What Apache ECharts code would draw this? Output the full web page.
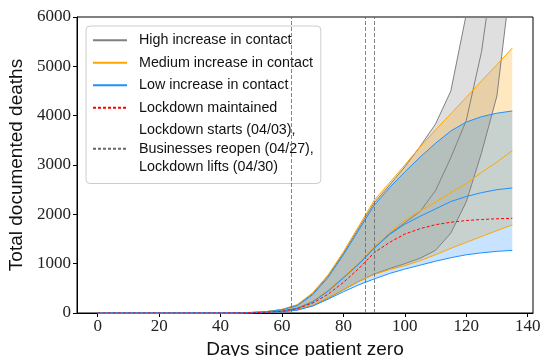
<!DOCTYPE html>
<html><head><meta charset="utf-8">
<script src="https://cdn.jsdelivr.net/npm/echarts@6/dist/echarts.min.js"></script>
<style>html,body{margin:0;padding:0;background:#fff}#c{width:543px;height:356px}</style>
</head><body><div id="c"></div>
<script>
const days = [0,5,10,15,20,25,30,35,40,45,50,55,60,65,70,75,80,85,90,95,100,105,110,115,120,125,130,135];
const highUpper = [0,0,0,0,0,0,0,1,2,5,12,30,70,160,390,750,1210,1720,2230,2590,2960,3380,3830,4500,6050,8500,12000,17000];
const highMid   = [0,0,0,0,0,0,0,1,1,3,7,17,40,100,230,450,720,1000,1320,1600,1830,2060,2480,3150,3900,5300,7500,10500];
const highLower = [0,0,0,0,0,0,0,0,1,2,5,12,25,60,150,300,470,640,790,900,1000,1110,1270,1620,2250,3250,4400,7000];
const medUpper  = [0,0,0,0,0,0,0,1,2,5,12,28,75,170,410,770,1240,1760,2280,2640,3000,3370,3710,4040,4370,4705,5035,5370];
const medMid    = [0,0,0,0,0,0,0,1,1,3,7,17,40,100,235,455,725,1010,1335,1630,1880,2070,2250,2440,2620,2850,3060,3290];
const medLower  = [0,0,0,0,0,0,0,0,1,2,5,13,30,70,160,310,480,640,780,880,960,1060,1180,1310,1430,1550,1670,1785];
const lowUpper  = [0,0,0,0,0,0,0,1,1,4,10,25,65,150,370,720,1180,1680,2180,2540,2860,3160,3440,3690,3870,3980,4050,4095];
const lowMid    = [0,0,0,0,0,0,0,1,1,3,7,16,38,95,225,440,710,990,1310,1590,1800,1960,2110,2260,2360,2440,2500,2535];
const lowLower  = [0,0,0,0,0,0,0,0,1,2,5,11,25,60,140,280,430,570,690,800,890,970,1050,1120,1180,1220,1250,1270];
const lockdown  = [0,0,0,0,0,0,0,0,1,3,6,15,35,90,200,380,620,900,1220,1430,1600,1710,1790,1840,1875,1895,1910,1920];
const eventDays = [63, 87, 90];
const xTicks = [0,20,40,60,80,100,120,140];

const names = {
  high: 'High increase in contact',
  med: 'Medium increase in contact',
  low: 'Low increase in contact',
  lock: 'Lockdown maintained',
  events: 'Lockdown starts (04/03),\nBusinesses reopen (04/27),\nLockdown lifts (04/30)'
};
const scen = [
  {key:'high', color:'#808080', fill:'rgba(128,128,128,0.25)', up:highUpper, mid:highMid, lo:highLower},
  {key:'med', color:'#ffa500', fill:'rgba(255,165,0,0.25)', up:medUpper, mid:medMid, lo:medLower},
  {key:'low', color:'#1e90ff', fill:'rgba(30,144,255,0.25)', up:lowUpper, mid:lowMid, lo:lowLower}
];
const pairs = a => days.map((d,i)=>[d,a[i]]);
const series = [];
scen.forEach(s => {
  series.push({type:'custom', name:'_band_'+s.key, silent:true, clip:true, z:1,
    data:[[0,0]],
    renderItem:(params, api) => {
      const pts = [];
      days.forEach((d,i)=>pts.push(api.coord([d, s.up[i]])));
      for (let i=days.length-1;i>=0;i--) pts.push(api.coord([days[i], s.lo[i]]));
      const cs = params.coordSys;
      return {type:'polygon', shape:{points:pts}, style:{fill:s.fill},
        clipPath:{type:'rect', shape:{x:cs.x, y:cs.y, width:cs.width, height:cs.height}}};
    }
  });
});
scen.forEach(s => {
  [s.up, s.mid, s.lo].forEach(arr => {
    series.push({type:'line', name:names[s.key], data:pairs(arr), symbol:'none',
      lineStyle:{color:s.color, width:1}, itemStyle:{color:s.color}, z:3});
  });
});
series.push({type:'line', name:names.lock, data:pairs(lockdown), symbol:'none',
  lineStyle:{color:'#ff0000', width:1, type:[3,2]}, itemStyle:{color:'#ff0000'}, z:4});
series.push({type:'line', name:names.events, data:[], symbol:'none',
  lineStyle:{color:'#666', width:0.8, type:[3,2]}, itemStyle:{color:'#666'},
  markLine:{silent:true, symbol:['none','none'], label:{show:false},
    lineStyle:{color:'#666', width:0.8, type:[4,2]},
    data: eventDays.map(d=>({xAxis:d}))}, z:2});

const chart = echarts.init(document.getElementById('c'), null, {renderer:'canvas'});
chart.setOption({
  animation:false,
  backgroundColor:'#fff',
  grid:{left:77, right:10, top:17, bottom:43, show:true, borderColor:'#000', borderWidth:1,
    containLabel:false, outerBoundsMode:'none'},
  legend:{
    orient:'vertical', left:86, top:26, itemWidth:34, itemHeight:14, itemGap:0,
    padding:[3,7,5,6], backgroundColor:'rgba(255,255,255,0.8)', borderColor:'#cccccc',
    borderWidth:1, borderRadius:4, selectedMode:false,
    itemStyle:{opacity:0, borderWidth:0},
    textStyle:{fontFamily:'Liberation Sans', fontSize:14.3, color:'#111', lineHeight:22.5, padding:[0,0,0,7]},
    data:[
      {name:names.high}, {name:names.med}, {name:names.low}, {name:names.lock},
      {name:names.events, textStyle:{lineHeight:18.5, padding:[4,0,0,7]}}
    ]
  },
  xAxis:{type:'value', min:-6.75, max:141.75,
    name:'Days since patient zero', nameLocation:'middle', nameGap:23,
    nameTextStyle:{fontFamily:'Liberation Sans', fontSize:19, color:'#111'},
    axisLine:{show:true, onZero:false, lineStyle:{color:'#000'}},
    axisTick:{show:true, length:4, customValues:xTicks, lineStyle:{color:'#000'}},
    axisLabel:{customValues:xTicks, margin:5, fontFamily:'Liberation Serif', fontSize:17, color:'#222',
      formatter:v=>String(v)},
    splitLine:{show:false}},
  yAxis:{type:'value', min:0, max:6000, interval:1000,
    name:'Total documented deaths', nameLocation:'middle', nameGap:42,
    nameTextStyle:{fontFamily:'Liberation Sans', fontSize:19, color:'#111'},
    axisLine:{show:true, onZero:false, lineStyle:{color:'#000'}},
    axisTick:{show:true, length:4, lineStyle:{color:'#000'}},
    axisLabel:{margin:6, fontFamily:'Liberation Serif', fontSize:17, color:'#222', formatter:v=>String(v)},
    splitLine:{show:false}},
  series: series
});
</script></body></html>
